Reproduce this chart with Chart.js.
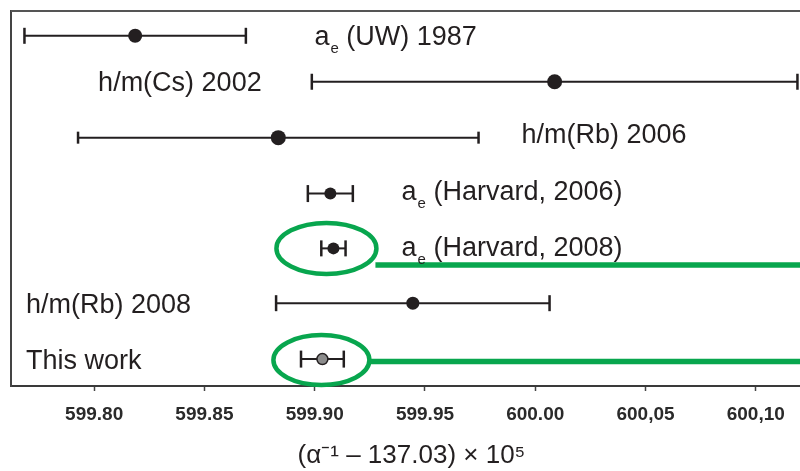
<!DOCTYPE html>
<html>
<head>
<meta charset="utf-8">
<script src="https://cdn.jsdelivr.net/npm/chart.js@4.4.1/dist/chart.umd.min.js"></script>
<style>
  html, body { margin: 0; padding: 0; background: #fff; overflow: hidden; }
  #wrap { width: 830px; height: 471px; }
</style>
</head>
<body>
<div id="wrap"><canvas id="alphaChart"></canvas></div>
<script>
// one row per measurement, top to bottom
const rowLabels = ['a_e (UW) 1987', 'h/m(Cs) 2002', 'h/m(Rb) 2006', 'a_e (Harvard, 2006)', 'a_e (Harvard, 2008)', 'h/m(Rb) 2008', 'This work']
const rowPos = [1.16, 1.99, 3.0, 4.01, 5.0, 5.99, 7.0]
const values = [599.8186, 600.0088, 599.8835, 599.9071, 599.9085, 599.9445, 599.9035]
const errors = [0.0502, 0.1101, 0.0908, 0.0102, 0.0055, 0.0620, 0.0097]

// where each row's text starts (x value) and sits (row position)
const labelX = [599.8999, 599.8018, 599.9938, 599.9394, 599.9394, 599.7691, 599.7691]
const labelY = [1.15, 1.99, 2.93, 3.96, 4.96, 5.99, 7.0]

const tickValues = [599.80, 599.85, 599.90, 599.95, 600.00, 600.05, 600.10]
const tickLabels = ['599.80', '599.85', '599.90', '599.95', '600.00', '600,05', '600,10']

const fontFamily = "'Liberation Sans', Arial, Helvetica, sans-serif"
const ink = '#231f20'
const green = '#08a64e'

// error bars: one two-point line per row, caps drawn as rotated 'line' points
const capSizes = [8, 8, 6, 8.5, 8, 8, 8.5]
const errorBarSets = values.map((v, i) => ({
  data: [{ x: v - errors[i], y: rowPos[i] }, { x: v + errors[i], y: rowPos[i] }],
  showLine: true,
  borderColor: ink,
  borderWidth: 2,
  pointStyle: 'line',
  rotation: 90,
  pointRadius: capSizes[i],
  pointBorderColor: ink,
  pointBorderWidth: 2.5,
  order: 2
}))

const markerSet = {
  data: values.map((v, i) => ({ x: v, y: rowPos[i] })),
  pointRadius: [7, 7.5, 7.5, 6, 6, 6.5, 5.5],
  pointBackgroundColor: values.map((v, i) => i === 6 ? '#8c8c8c' : ink),
  pointBorderColor: ink,
  pointBorderWidth: values.map((v, i) => i === 6 ? 1.5 : 0),
  showLine: false,
  order: 0
}

const framePlugin = {
  id: 'frame',
  beforeDatasetsDraw (chart) {
    const { ctx, chartArea } = chart
    ctx.save()
    ctx.strokeStyle = '#555'
    ctx.lineWidth = 2
    ctx.beginPath()
    ctx.moveTo(chartArea.left, chartArea.top)
    ctx.lineTo(chartArea.right, chartArea.top)
    ctx.lineTo(chartArea.right, chartArea.bottom)
    ctx.stroke()
    ctx.restore()
  }
}

const rowLabelPlugin = {
  id: 'rowLabels',
  afterDatasetsDraw (chart) {
    const { ctx, scales: { x, y } } = chart
    ctx.save()
    ctx.fillStyle = ink
    ctx.textBaseline = 'alphabetic'
    rowLabels.forEach((text, i) => {
      let px = x.getPixelForValue(labelX[i])
      const py = y.getPixelForValue(labelY[i]) + 9.5
      let label = text
      ctx.font = '27px ' + fontFamily
      if (label.startsWith('a_e')) {
        ctx.fillText('a', px, py)
        px += ctx.measureText('a').width + 1
        ctx.font = '15px ' + fontFamily
        ctx.fillText('e', px, py + 8)
        px += ctx.measureText('e').width
        ctx.font = '27px ' + fontFamily
        label = label.slice(3)
      }
      ctx.fillText(label, px, py)
    })
    ctx.restore()
  }
}

// green highlight ellipses with a bar running off to the right
const highlightPlugin = {
  id: 'highlight',
  afterDatasetsDraw (chart, args, opts) {
    const { ctx, chartArea, scales: { x, y } } = chart
    ctx.save()
    ctx.strokeStyle = green
    for (const h of opts.items) {
      const cx = x.getPixelForValue(values[h.row]) + h.dx
      const cy = y.getPixelForValue(rowPos[h.row]) + h.dy
      ctx.lineWidth = 4.5
      ctx.beginPath()
      ctx.ellipse(cx, cy, h.rx, h.ry, 0, 0, Math.PI * 2)
      ctx.stroke()
      ctx.lineWidth = 5.5
      ctx.beginPath()
      ctx.moveTo(cx + h.rx - 1, cy + h.lineDy)
      ctx.lineTo(chartArea.right + 20, cy + h.lineDy)
      ctx.stroke()
    }
    ctx.restore()
  }
}

const ctx = document.getElementById('alphaChart').getContext('2d')

new Chart(ctx, {
  type: 'scatter',
  data: { datasets: [markerSet, ...errorBarSets] },
  options: {
    responsive: true,
    maintainAspectRatio: false,
    animation: false,
    events: [],
    layout: { padding: { left: 11, top: 10, right: 18, bottom: 0 } },
    plugins: {
      legend: { display: false },
      tooltip: { enabled: false },
      highlight: {
        items: [
          { row: 4, dx: -7, dy: 0, rx: 50, ry: 25.5, lineDy: 16.5 },
          { row: 6, dx: -1, dy: 1, rx: 48, ry: 25, lineDy: 1.5 }
        ]
      }
    },
    scales: {
      x: {
        type: 'linear',
        min: 599.7623,
        max: 600.1255,
        afterBuildTicks: (scale) => { scale.ticks = tickValues.map((v) => ({ value: v })) },
        grid: {
          drawOnChartArea: false,
          drawTicks: true,
          tickLength: 5,
          tickWidth: 1.5,
          color: '#444'
        },
        border: { display: true, color: '#3a3a3a', width: 2 },
        ticks: {
          color: '#2a2a2a',
          padding: 12,
          maxRotation: 0,
          autoSkip: false,
          font: { family: fontFamily, size: 19, weight: 'bold' },
          callback: (value, index) => tickLabels[index]
        },
        title: {
          display: true,
          text: '(α⁻¹ – 137.03) × 10⁵',
          color: ink,
          font: { family: fontFamily, size: 26 },
          padding: { top: 2, bottom: 0 }
        }
      },
      y: {
        type: 'linear',
        reverse: true,
        min: 0.712,
        max: 7.486,
        grid: { display: false, drawTicks: false },
        border: { display: true, color: '#444', width: 2 },
        ticks: { display: false }
      }
    }
  },
  plugins: [framePlugin, highlightPlugin, rowLabelPlugin]
})
</script>
</body>
</html>
